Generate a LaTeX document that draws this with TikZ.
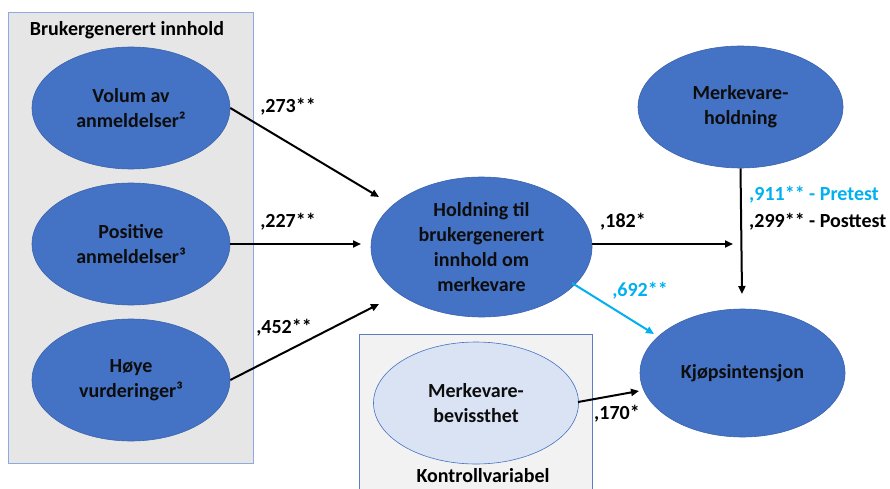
\documentclass[tikz,border=0pt]{standalone}
\usepackage{fontspec}
\setmainfont{Carlito}
\usetikzlibrary{shapes.geometric,arrows.meta}
\definecolor{ellblue}{HTML}{4472C4}
\definecolor{ellline}{HTML}{3A63AD}
\definecolor{lightell}{HTML}{DAE3F3}
\definecolor{groupfill}{HTML}{E7E6E6}
\definecolor{groupline}{HTML}{8FAADC}
\definecolor{ctrlfill}{HTML}{F2F2F2}
\definecolor{ctrlline}{HTML}{5B7FC0}
\definecolor{cyanpath}{HTML}{00B0F0}
\tikzset{
  var/.style={ellipse, fill=ellblue, draw=ellline, line width=0.6pt, inner sep=0pt,
    align=center, font=\fontsize{20}{25}\selectfont\bfseries, text=black!95},
  ctrlvar/.style={var, fill=lightell, draw=ellblue},
  groupbox/.style={fill=groupfill, draw=groupline, line width=1pt},
  ctrlbox/.style={fill=ctrlfill, draw=ctrlline, line width=0.8pt},
  path/.style={line width=2pt, -{Triangle[length=8pt,width=7pt]}},
  cpath/.style={path, draw=cyanpath},
  coef/.style={font=\fontsize{20}{24}\selectfont\bfseries, inner sep=0pt},
  heading/.style={font=\fontsize{20}{24}\selectfont\bfseries, inner sep=0pt}
}
\begin{document}
\begin{tikzpicture}[x=1pt,y=-1pt]
\useasboundingbox (0,0) rectangle (890,489);

% group frames
\draw[groupbox] (8,13) rectangle (253,463);
\draw[ctrlbox] (359,334) rectangle (592,495);
\node[heading] (grp) at (127,30) {Brukergenerert innhold};
\node[heading] (ctrl) at (483,476) {Kontrollvariabel};

% latent variables
\node[var, minimum width=198pt, minimum height=122pt] (vol) at (131,108) {Volum av\\anmeldelser²};
\node[var, minimum width=198pt, minimum height=122pt] (pos) at (131,244) {Positive\\anmeldelser³};
\node[var, minimum width=198pt, minimum height=122pt] (hoy) at (131,380) {Høye\\vurderinger³};
\node[var, minimum width=221pt, minimum height=140pt] (hold) at (481.5,247) {Holdning til\\brukergenerert\\innhold om\\merkevare};
\node[var, minimum width=205pt, minimum height=122pt] (mh) at (740.5,107) {Merkevare-\\holdning};
\node[var, minimum width=205pt, minimum height=128pt] (kj) at (742.5,373) {Kjøpsintensjon};
\node[ctrlvar, minimum width=205pt, minimum height=122pt] (bev) at (476,403) {Merkevare-\\bevissthet};

% arrow tips
\coordinate (t1) at (379,197);
\coordinate (t2) at (361,244);
\coordinate (t3) at (379,304);
\coordinate (t4) at (733,244);
\coordinate (t5) at (742,294);
\coordinate (t6) at (654,334);
\coordinate (t7) at (639,391);
\coordinate (s4) at (592,244);
\coordinate (s6) at (572,283);
\coordinate (s7) at (578,402);

% paths
\draw[path] (vol.east) -- (t1);
\draw[path] (pos.east) -- (t2);
\draw[path] (hoy.east) -- (t3);
\draw[path] (s4) -- (t4);
\draw[path] (mh.south) -- (t5);
\draw[cpath] (s6) -- (t6);
\draw[path] (s7) -- (t7);

% coefficients
\node[coef] (c1) at (288,107) {,273**};
\node[coef] (c2) at (288,222) {,227**};
\node[coef] (c3) at (284,328) {,452**};
\node[coef] (c4) at (623,222) {,182*};
\node[coef, anchor=west, text=cyanpath] (c5) at (749,195) {,911** - Pretest};
\node[coef, anchor=west] (c6) at (749,222) {,299** - Posttest};
\node[coef, text=cyanpath] (c7) at (640,291) {,692**};
\node[coef] (c8) at (617,414) {,170*};
\end{tikzpicture}
\end{document}
